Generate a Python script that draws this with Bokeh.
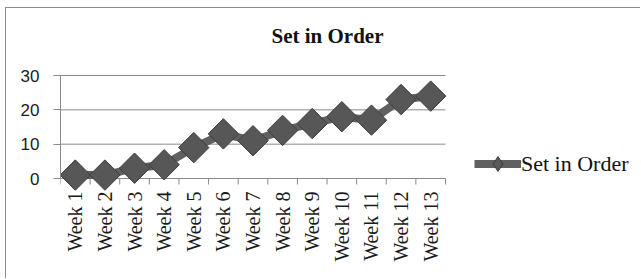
import numpy as np
from bokeh.plotting import figure
from bokeh.core.properties import value
from bokeh.models import (Range1d, FixedTicker, Legend, LegendItem, LinearAxis, Label)
from bokeh.embed import file_html
from bokeh.resources import INLINE

weeks = ["Week 1", "Week 2", "Week 3", "Week 4", "Week 5", "Week 6", "Week 7",
         "Week 8", "Week 9", "Week 10", "Week 11", "Week 12", "Week 13"]
values = [1, 1, 3, 4, 9, 13, 11, 14, 16, 18, 17, 23, 24]
y_ticks = [0, 10, 20, 30]
series_name = "Set in Order"
title_text = "Set in Order"

# layout (pixels)
CANVAS_W, CANVAS_H = 635, 271
LEFT = 54
PLOT_W, PLOT_H = 385, 103          # size of the week/value area
ABOVE, BELOW = 67, 101             # canvas space above / below the value area
FRAME_W = CANVAS_W - LEFT

n = len(weeks)
x = [i + 0.5 for i in range(n)]
boundaries = list(range(n + 1))
y_max = y_ticks[-1]
px_per_unit = PLOT_H / y_max

p = figure(width=CANVAS_W, height=CANVAS_H, output_backend="svg", toolbar_location=None,
           x_range=Range1d(0, n * FRAME_W / PLOT_W),
           y_range=Range1d(-BELOW / px_per_unit, y_max + ABOVE / px_per_unit),
           x_axis_type=None, y_axis_type=None,
           min_border_left=LEFT, min_border_right=0, min_border_top=0, min_border_bottom=0,
           margin=(7, 0, 0, 5))
p.styles = {"border-left": "1px solid #8c8c8c", "border-top": "1px solid #8c8c8c"}
p.outline_line_color = None
p.background_fill_color = "white"
p.border_fill_color = "white"
p.title.visible = False

grey = "#8a8a8a"
yaxis = LinearAxis(ticker=FixedTicker(ticks=y_ticks), bounds=(0, y_max),
                   axis_line_color=grey, major_tick_line_color=grey,
                   major_tick_out=7, major_tick_in=0, minor_tick_line_color=None,
                   major_label_text_font="Liberation Sans", major_label_text_font_size="17px",
                   major_label_standoff=14, major_label_text_color="#1a1a1a")
p.add_layout(yaxis, "left")

# horizontal gridlines (the 0 line is the category axis line)
p.segment(x0=[0] * len(y_ticks), x1=[n] * len(y_ticks), y0=y_ticks, y1=y_ticks,
          line_color=grey, line_width=1)
# category boundary tick marks below the axis
p.ray(x=boundaries, y=[0] * len(boundaries), length=6, length_units="screen",
      angle=-np.pi / 2, line_color=grey, line_width=1)
# week labels, rotated, reading bottom-to-top
p.text(x=x, y=[0] * n, text=weeks, angle=np.pi / 2, y_offset=13,
       text_align="right", text_baseline="middle",
       text_font=value("Liberation Serif"), text_font_size=value("20px"),
       text_color="#1a1a1a")

legend_marker = p.scatter(x, values, marker="diamond", size=1,
                          fill_color="#5a5a5a", line_color="#3a3a3a")
line = p.line(x, values, line_width=8, line_color="#606060")
pts = p.scatter(x, values, marker="square", angle=np.pi / 4, size=21.5,
                fill_color="#575757", line_color="#3c3c3c", line_width=1)

p.add_layout(Label(x=267, y=BELOW + 143, x_units="screen", y_units="screen", text=title_text,
                   text_align="center", text_baseline="alphabetic",
                   text_font="Liberation Serif", text_font_style="bold",
                   text_font_size="21px", text_color="#111111"))

legend = Legend(items=[LegendItem(label=series_name, renderers=[line, legend_marker])],
                location=(414, BELOW - 4), glyph_width=47, glyph_height=37,
                label_standoff=0, padding=0, margin=0, spacing=0,
                border_line_color=None, background_fill_alpha=0,
                label_text_font="Liberation Serif", label_text_font_size="22px",
                label_text_color="#111111")
p.add_layout(legend, "center")

open("out.html", "w").write(file_html(p, INLINE))
